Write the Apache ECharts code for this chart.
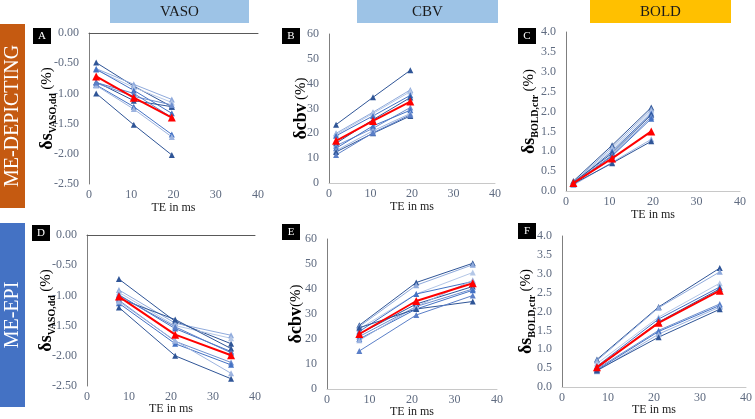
<!DOCTYPE html>
<html><head><meta charset="utf-8">
<script src="https://cdn.jsdelivr.net/npm/echarts@6/dist/echarts.min.js"></script>
<style>html,body{margin:0;padding:0;background:#fff}#c{width:755px;height:419px}</style>
</head><body><div id="c"></div><script>
// ---- data ----
const teDepicting = [1.7, 10.6, 19.6];
const teEpi = [7.6, 21.0, 34.3];

const vasoDepicting = [
  [-0.49, -0.88, -1.22],
  [-0.59, -0.85, -1.10],
  [-0.61, -0.90, -1.15],
  [-0.60, -0.95, -1.33],
  [-0.81, -1.12, -1.22],
  [-0.83, -1.05, -1.19],
  [-0.86, -1.22, -1.68],
  [-0.87, -1.26, -1.72],
  [-1.00, -1.52, -2.02],
  [-0.82, -1.00, -1.40]
];
const vasoDepictingMean = [-0.72, -1.07, -1.40];

const cbvDepicting = [
  [23.5, 34.5, 45.4],
  [20.0, 28.5, 37.5],
  [19.5, 28.0, 36.8],
  [19.0, 27.0, 35.3],
  [16.0, 25.5, 34.4],
  [15.0, 22.0, 30.4],
  [14.0, 23.0, 29.3],
  [13.0, 21.0, 28.0],
  [12.5, 20.0, 27.0],
  [11.3, 20.2, 27.5]
];
const cbvDepictingMean = [17.0, 25.0, 32.8];

const boldDepicting = [
  [0.25, 1.15, 2.10],
  [0.22, 1.10, 2.05],
  [0.20, 1.05, 2.00],
  [0.18, 1.00, 1.95],
  [0.22, 0.95, 1.92],
  [0.20, 0.90, 1.87],
  [0.17, 0.88, 1.82],
  [0.15, 0.72, 1.30],
  [0.18, 0.70, 1.25]
];
const boldDepictingMean = [0.20, 0.82, 1.50];

const vasoEpi = [
  [-0.73, -1.43, -1.80],
  [-0.91, -1.46, -1.66],
  [-0.95, -1.50, -1.71],
  [-0.99, -1.55, -1.93],
  [-1.05, -1.40, -1.88],
  [-1.08, -1.76, -2.11],
  [-1.13, -1.80, -2.15],
  [-1.10, -1.75, -2.29],
  [-1.20, -2.00, -2.38],
  [-1.00, -1.52, -1.95]
];
const vasoEpiMean = [-1.02, -1.65, -1.99];

const cbvEpi = [
  [25.5, 42.6, 50.3],
  [25.0, 41.5, 49.7],
  [24.0, 38.0, 46.6],
  [23.0, 38.0, 43.0],
  [22.0, 34.0, 41.0],
  [21.0, 33.0, 40.0],
  [20.0, 32.0, 39.5],
  [19.5, 33.0, 43.5],
  [24.5, 32.0, 35.0],
  [15.2, 29.6, 37.4]
];
const cbvEpiMean = [22.0, 35.2, 42.3];

const boldEpi = [
  [0.73, 2.12, 3.15],
  [0.70, 2.10, 3.05],
  [0.62, 1.85, 2.75],
  [0.55, 1.80, 2.65],
  [0.50, 1.72, 2.60],
  [0.48, 1.50, 2.20],
  [0.45, 1.47, 2.16],
  [0.42, 1.40, 2.12],
  [0.44, 1.32, 2.06]
];
const boldEpiMean = [0.52, 1.70, 2.55];

const xTicks = [0, 10, 20, 30, 40];
const columnTitles = ['VASO', 'CBV', 'BOLD'];
const rowTitles = ['ME-DEPICTING', 'ME-EPI'];
const panelLetters = ['A', 'B', 'C', 'D', 'E', 'F'];

// ---- styling ----
const SERIF = '"Liberation Serif", "DejaVu Serif", serif';
const LABEL = '#5f6b80';
const shades = ['#2F5597', '#8FAADC', '#B4C7E7', '#4472C4', '#2F5597', '#6E8FCF', '#4472C4', '#9DB4E0', '#2F5597', '#5B7FC8'];

const panels = [
  {te: teDepicting, d: vasoDepicting, m: vasoDepictingMean, grid: {left: 89, top: 33, width: 169, height: 151}, y: [-2.5, 0, 0.5, 2], neg: true,
   name: '{d|δs}{sub|VASO,dd} {p|(%)}', gap: 31, xgap: 18},
  {te: teDepicting, d: cbvDepicting, m: cbvDepictingMean, grid: {left: 329, top: 34, width: 166, height: 149}, y: [0, 60, 10, 0],
   name: '{d|δcbv} {p|(%)}', gap: 17, xgap: 18},
  {te: teDepicting, d: boldDepicting, m: boldDepictingMean, grid: {left: 566, top: 32, width: 174, height: 159}, y: [0, 4, 0.5, 1],
   name: '{d|δs}{sub|BOLD,ctr} {p|(%)}', gap: 26, xgap: 18},
  {te: teEpi, d: vasoEpi, m: vasoEpiMean, grid: {left: 87, top: 235, width: 168, height: 151}, y: [-2.5, 0, 0.5, 2], neg: true,
   name: '{d|δs}{sub|VASO,dd} {p|(%)}', gap: 30, xgap: 17},
  {te: teEpi, d: cbvEpi, m: cbvEpiMean, grid: {left: 327, top: 239, width: 170, height: 151}, y: [0, 60, 10, 0],
   name: '{d|δcbv}{p|(%)}', gap: 20, xgap: 17},
  {te: teEpi, d: boldEpi, m: boldEpiMean, grid: {left: 562, top: 236, width: 185, height: 151}, y: [0, 4, 0.5, 1],
   name: '{d|δs}{sub|BOLD,ctr} {p|(%)}', gap: 25, xgap: 17}
];

const grids = [], xAxes = [], yAxes = [], series = [];
const richName = {
  d: {fontSize: 18, fontWeight: 'bold', fontFamily: SERIF, color: '#000', lineHeight: 22},
  sub: {fontSize: 10, fontWeight: 'bold', fontFamily: SERIF, color: '#000', verticalAlign: 'bottom', lineHeight: 16, padding: [6, 0, 0, 0]},
  p: {fontSize: 15, fontFamily: SERIF, color: '#000', lineHeight: 22}
};

panels.forEach((p, gi) => {
  grids.push(p.grid);
  const xIdx = xAxes.length;
  xAxes.push({
    gridIndex: gi, type: 'value', min: 0, max: 40, interval: 10, position: 'bottom',
    axisLine: {show: !p.neg, onZero: false, lineStyle: {color: '#c8c8c8', width: 1}},
    axisTick: {show: false}, splitLine: {show: false},
    axisLabel: {color: LABEL, fontFamily: SERIF, fontSize: 12, margin: 5},
    name: 'TE in ms', nameLocation: 'middle', nameGap: p.xgap, nameMoveOverlap: false,
    nameTextStyle: {color: '#222', fontFamily: SERIF, fontSize: 12}
  });
  if (p.neg) {
    xAxes.push({
      gridIndex: gi, type: 'value', min: 0, max: 40, interval: 10, position: 'top',
      axisLine: {show: true, onZero: false, lineStyle: {color: '#595959', width: 1}},
      axisTick: {show: false}, splitLine: {show: false}, axisLabel: {show: false}
    });
  }
  const yIdx = yAxes.length;
  yAxes.push({
    gridIndex: gi, type: 'value', min: p.y[0], max: p.y[1], interval: p.y[2],
    axisLine: {show: true, lineStyle: {color: '#7f7f7f', width: 1}},
    axisTick: {show: false}, splitLine: {show: false},
    axisLabel: {color: LABEL, fontFamily: SERIF, fontSize: 12, margin: 10, formatter: v => v.toFixed(p.y[3])},
    name: p.name, nameLocation: 'middle', nameRotate: 90, nameGap: p.gap, nameMoveOverlap: false,
    nameTextStyle: {rich: richName}
  });
  p.d.forEach((vals, k) => {
    const c = shades[k % shades.length];
    series.push({
      type: 'line', xAxisIndex: xIdx, yAxisIndex: yIdx,
      data: p.te.map((t, i) => [t, vals[i]]),
      symbol: 'triangle', symbolSize: 6,
      lineStyle: {color: c, width: 1}, itemStyle: {color: c}, z: 2
    });
  });
  series.push({
    type: 'line', xAxisIndex: xIdx, yAxisIndex: yIdx,
    data: p.te.map((t, i) => [t, p.m[i]]),
    symbol: 'triangle', symbolSize: 8,
    lineStyle: {color: '#FF0000', width: 2}, itemStyle: {color: '#FF0000'}, z: 5
  });
});

// decorations
const graphic = [];
const heads = [
  {x: 110, w: 139, fill: '#9DC3E6'},
  {x: 357, w: 141, fill: '#9DC3E6'},
  {x: 590, w: 141, fill: '#FFC000'}
];
heads.forEach((h, i) => {
  graphic.push({type: 'rect', shape: {x: h.x, y: 0, width: h.w, height: 23}, style: {fill: h.fill}});
  graphic.push({type: 'text', x: h.x + h.w / 2, y: 12,
    style: {text: columnTitles[i], fill: '#1a1a1a', font: '15px ' + SERIF, textAlign: 'center', textVerticalAlign: 'middle', verticalAlign: 'middle'}});
});
const rows = [{y: 24, h: 184, fill: '#C55A11'}, {y: 223, h: 184, fill: '#4472C4'}];
rows.forEach((r, i) => {
  graphic.push({type: 'rect', shape: {x: 0, y: r.y, width: 25, height: r.h}, style: {fill: r.fill}});
  graphic.push({type: 'text', x: 13, y: r.y + r.h / 2, rotation: Math.PI / 2,
    style: {text: rowTitles[i], fill: '#fff', font: '20px ' + SERIF, textAlign: 'center', textVerticalAlign: 'middle', verticalAlign: 'middle'}});
});
const letterPos = [[33, 28], [282, 28], [518, 28], [32, 225], [282, 224], [518, 223]];
letterPos.forEach((lp, i) => {
  graphic.push({type: 'rect', shape: {x: lp[0], y: lp[1], width: 18, height: 16}, style: {fill: '#000'}});
  graphic.push({type: 'text', x: lp[0] + 9, y: lp[1] + 8,
    style: {text: panelLetters[i], fill: '#fff', font: '11px ' + SERIF, textAlign: 'center', textVerticalAlign: 'middle', verticalAlign: 'middle'}});
});

const chart = echarts.init(document.getElementById('c'), null, {renderer: 'canvas'});
chart.setOption({
  animation: false,
  backgroundColor: '#fff',
  grid: grids, xAxis: xAxes, yAxis: yAxes, series: series, graphic: graphic
});
</script></body></html>
